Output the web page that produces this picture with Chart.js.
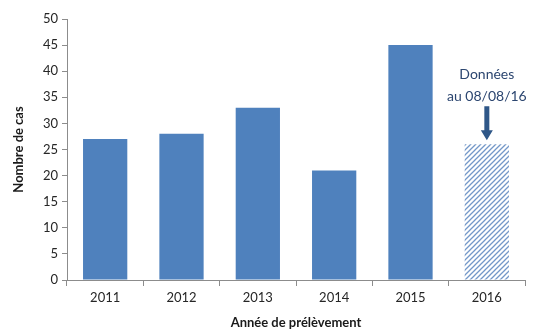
<!DOCTYPE html>
<html>
<head>
<meta charset="utf-8">
<script src="https://cdn.jsdelivr.net/npm/chart.js@4"></script>
<style>
  html, body { margin: 0; padding: 0; background: #fff; }
  #wrap { width: 537px; height: 331px; }
</style>
</head>
<body>
<div id="wrap"><canvas id="c" width="537" height="331"></canvas></div>
<script>
const categories = ['2011', '2012', '2013', '2014', '2015', '2016'];
const cases = [27, 28, 33, 21, 45, 26];
const provisional = [false, false, false, false, false, true];
const yTicks = [0, 5, 10, 15, 20, 25, 30, 35, 40, 45, 50];
const noteLines = ['Données', 'au 08/08/16'];

const FONT = 'Lato, "Open Sans", sans-serif';
const BLUE = '#4f81bd';

function makeHatch() {
  const s = 5;
  const p = document.createElement('canvas');
  p.width = s; p.height = s;
  const g = p.getContext('2d');
  g.fillStyle = '#ffffff';
  g.fillRect(0, 0, s, s);
  g.strokeStyle = '#7397c8';
  g.lineWidth = 1.3;
  g.beginPath();
  g.moveTo(-1, s + 1); g.lineTo(s + 1, -1);
  g.moveTo(-1, 1); g.lineTo(1, -1);
  g.moveTo(s - 1, s + 1); g.lineTo(s + 1, s - 1);
  g.stroke();
  return document.getElementById('c').getContext('2d').createPattern(p, 'repeat');
}
const hatch = makeHatch();

const notePlugin = {
  id: 'note',
  afterDatasetsDraw(chart) {
    const idx = provisional.indexOf(true);
    if (idx < 0) return;
    const el = chart.getDatasetMeta(0).data[idx];
    const ctx = chart.ctx;
    const x = el.x, top = el.y;
    ctx.save();
    const col = '#2f5788';
    ctx.fillStyle = col;
    const tip = top - 4, shaftTop = top - 38, headH = 10, headW = 6, shaftW = 2.5;
    ctx.beginPath();
    ctx.moveTo(x - shaftW, shaftTop);
    ctx.lineTo(x + shaftW, shaftTop);
    ctx.lineTo(x + shaftW, tip - headH);
    ctx.lineTo(x + headW, tip - headH);
    ctx.lineTo(x, tip);
    ctx.lineTo(x - headW, tip - headH);
    ctx.lineTo(x - shaftW, tip - headH);
    ctx.closePath();
    ctx.fill();
    ctx.fillStyle = '#2c4670';
    ctx.font = '14px ' + FONT;
    ctx.textAlign = 'center';
    ctx.textBaseline = 'middle';
    ctx.fillText(noteLines[0], x, top - 70);
    ctx.fillText(noteLines[1], x, top - 48);
    ctx.restore();
  }
};

new Chart(document.getElementById('c'), {
  type: 'bar',
  data: {
    labels: categories,
    datasets: [{
      data: cases,
      backgroundColor: provisional.map(p => p ? hatch : BLUE),
      borderWidth: 0,
      categoryPercentage: 0.58,
      barPercentage: 1.0
    }]
  },
  options: {
    responsive: false,
    animation: false,
    devicePixelRatio: 1,
    layout: { padding: { top: 19, right: 12, left: 11, bottom: 0 } },
    plugins: { legend: { display: false }, tooltip: { enabled: false } },
    scales: {
      x: {
        grid: { display: true, drawOnChartArea: false, offset: true, tickLength: 6, color: '#8c8c8c', lineWidth: 1 },
        border: { display: true, color: '#8c8c8c', width: 1 },
        ticks: { font: { family: FONT, size: 13 }, color: '#262626', padding: 4 },
        title: { display: true, text: 'Année de prélèvement', font: { family: FONT, size: 13, weight: 'bold' }, color: '#1a1a1a', padding: { top: 2, bottom: 0 } },
        afterFit(scale) { scale.height = 51; }
      },
      y: {
        min: 0, max: 50,
        afterBuildTicks(scale) { scale.ticks = yTicks.map(v => ({ value: v })); },
        grid: { display: true, drawOnChartArea: false, tickLength: 5, color: '#8c8c8c', lineWidth: 1 },
        border: { display: true, color: '#8c8c8c', width: 1 },
        ticks: { font: { family: FONT, size: 13 }, color: '#262626', padding: 4 },
        title: { display: true, text: 'Nombre de cas', font: { family: FONT, size: 13, weight: 'bold' }, color: '#1a1a1a', padding: { top: 0, bottom: 4 } },
        afterFit(scale) { scale.width = 56; }
      }
    }
  },
  plugins: [notePlugin]
});
</script>
</body>
</html>
